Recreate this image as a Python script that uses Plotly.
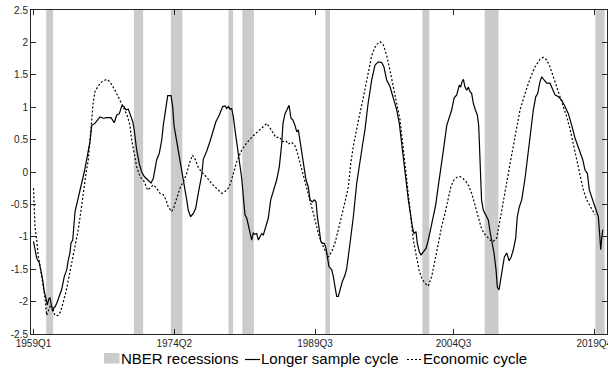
import plotly.graph_objects as go

# ---------------- data ----------------
cycle_dates = [
    1959.00, 1959.35, 1959.63, 1959.89, 1960.00, 1960.14, 1960.35, 1960.50, 1960.65, 1960.79,
    1960.90, 1961.08, 1961.19, 1961.33, 1961.51, 1961.80, 1962.06, 1962.34, 1962.60, 1962.77,
    1962.95, 1963.06, 1963.25, 1963.50, 1963.75, 1964.04, 1964.33, 1964.50, 1964.76, 1964.94,
    1965.12, 1965.31, 1965.66, 1966.20, 1966.56, 1966.93, 1967.40, 1967.75, 1968.01, 1968.30,
    1968.56, 1968.80, 1969.02, 1969.27, 1969.53, 1969.75, 1969.89, 1970.18, 1970.46, 1970.72,
    1971.00, 1971.37, 1971.73, 1971.98, 1972.16, 1972.35, 1972.63, 1972.89, 1973.06, 1973.32,
    1973.54, 1973.90, 1974.08, 1974.22, 1974.51, 1974.80, 1975.06, 1975.34, 1975.60, 1975.77,
    1976.03, 1976.31, 1976.57, 1976.85, 1977.22, 1977.40, 1977.76, 1978.12, 1978.45, 1978.77,
    1979.13, 1979.50, 1979.75, 1979.93, 1980.11, 1980.29, 1980.47, 1980.65, 1980.83, 1981.02,
    1981.19, 1981.37, 1981.56, 1981.73, 1981.91, 1982.10, 1982.27, 1982.46, 1982.64, 1982.81,
    1983.00, 1983.18, 1983.36, 1983.54, 1983.72, 1983.90, 1984.08, 1984.44, 1984.70, 1984.98,
    1985.35, 1985.63, 1985.89, 1986.03, 1986.25, 1986.46, 1986.68, 1986.90, 1987.11, 1987.33,
    1987.52, 1987.69, 1987.87, 1988.06, 1988.31, 1988.52, 1988.77, 1988.96, 1989.20, 1989.42,
    1989.61, 1989.75, 1989.96, 1990.12, 1990.33, 1990.51, 1990.69, 1990.87, 1991.01, 1991.31,
    1991.48, 1991.66, 1991.85, 1992.02, 1992.21, 1992.46, 1992.75, 1992.93, 1993.29, 1993.65,
    1994.02, 1994.37, 1994.67, 1994.91, 1995.24, 1995.64, 1996.00, 1996.36, 1996.72, 1996.97,
    1997.26, 1997.62, 1997.98, 1998.35, 1998.63, 1998.92, 1999.25, 1999.61, 1999.79, 2000.04,
    2000.22, 2000.44, 2000.58, 2000.80, 2000.98, 2001.23, 2001.52, 2001.77, 2002.03, 2002.31,
    2002.57, 2002.82, 2003.15, 2003.47, 2003.77, 2004.05, 2004.31, 2004.56, 2004.85, 2005.13,
    2005.28, 2005.42, 2005.57, 2005.75, 2005.93, 2006.11, 2006.29, 2006.47, 2006.65, 2006.86,
    2007.08, 2007.23, 2007.37, 2007.54, 2007.73, 2008.02, 2008.27, 2008.46, 2008.64, 2008.89,
    2009.11, 2009.25, 2009.43, 2009.62, 2009.79, 2010.01, 2010.27, 2010.52, 2010.73, 2010.98,
    2011.24, 2011.41, 2011.63, 2011.89, 2012.25, 2012.57, 2012.97, 2013.15, 2013.41, 2013.62,
    2013.87, 2014.06, 2014.31, 2014.60, 2014.96, 2015.25, 2015.50, 2015.86, 2016.22, 2016.58,
    2016.94, 2017.31, 2017.67, 2018.13, 2018.50, 2018.75, 2019.00, 2019.22, 2019.58, 2019.94,
    2020.19, 2020.30, 2020.45, 2020.56, 2020.67,
]
cycle_values = [
    -1.07, -1.33, -1.40, -1.56, -1.67, -1.82, -1.97, -2.05, -1.96, -1.94,
    -2.03, -2.15, -2.10, -2.08, -2.03, -1.92, -1.81, -1.61, -1.51, -1.36,
    -1.25, -1.10, -1.05, -0.61, -0.46, -0.28, -0.12, 0.00, 0.19, 0.31,
    0.47, 0.72, 0.75, 0.85, 0.83, 0.84, 0.84, 0.76, 0.88, 0.90,
    1.02, 1.01, 0.96, 0.97, 0.88, 0.78, 0.67, 0.34, 0.13, 0.00,
    -0.07, -0.12, -0.17, -0.10, 0.08, 0.19, 0.29, 0.49, 0.72, 1.01,
    1.18, 1.18, 1.01, 0.72, 0.49, 0.24, 0.03, -0.20, -0.43, -0.59,
    -0.69, -0.64, -0.56, -0.33, -0.05, 0.20, 0.32, 0.47, 0.62, 0.78,
    0.88, 1.01, 1.02, 0.98, 1.01, 0.97, 0.98, 0.85, 0.65, 0.44,
    0.24, 0.08, -0.10, -0.38, -0.66, -0.71, -0.82, -0.89, -1.05, -0.94,
    -0.96, -0.95, -1.05, -1.00, -0.95, -0.97, -0.89, -0.71, -0.43, -0.30,
    -0.12, 0.08, 0.44, 0.75, 0.90, 0.96, 1.03, 0.83, 0.80, 0.72,
    0.62, 0.65, 0.47, 0.26, 0.05, -0.12, -0.23, -0.43, -0.46, -0.43,
    -0.46, -0.69, -0.89, -1.07, -1.10, -1.10, -1.18, -1.31, -1.46, -1.51,
    -1.61, -1.77, -1.92, -1.92, -1.82, -1.69, -1.59, -1.49, -1.10, -0.69,
    -0.17, 0.19, 0.44, 0.65, 1.05, 1.42, 1.65, 1.70, 1.69, 1.62,
    1.42, 1.32, 1.16, 0.96, 0.75, 0.35, 0.00, -0.43, -0.64, -0.84,
    -0.95, -0.92, -1.10, -1.23, -1.28, -1.23, -1.18, -1.05, -0.89, -0.69,
    -0.51, -0.25, 0.05, 0.40, 0.72, 0.85, 0.96, 1.14, 1.19, 1.34,
    1.31, 1.39, 1.43, 1.31, 1.26, 1.31, 1.24, 1.21, 1.06, 0.96,
    0.88, 0.72, 0.15, -0.43, -0.59, -0.66, -0.74, -0.92, -1.05, -1.25,
    -1.51, -1.78, -1.82, -1.64, -1.46, -1.31, -1.25, -1.37, -1.32, -1.20,
    -1.02, -0.69, -0.54, -0.43, -0.10, 0.30, 0.72, 0.96, 1.16, 1.21,
    1.39, 1.47, 1.42, 1.37, 1.37, 1.26, 1.19, 1.16, 1.11, 1.01,
    0.90, 0.72, 0.52, 0.34, 0.19, 0.03, -0.02, -0.28, -0.43, -0.59,
    -0.69, -0.89, -1.20, -1.02, -0.89,
]

econ_dates = [
    1959.00, 1959.05, 1959.16, 1959.35, 1959.52, 1959.78, 1960.00, 1960.25, 1960.43, 1960.68,
    1960.86, 1961.08, 1961.25, 1961.44, 1961.69, 1961.95, 1962.23, 1962.52, 1962.77, 1963.06,
    1963.31, 1963.60, 1963.85, 1964.15, 1964.40, 1964.66, 1964.94, 1965.12, 1965.28, 1965.45,
    1965.66, 1966.02, 1966.39, 1966.93, 1967.29, 1967.83, 1968.37, 1968.80, 1969.21, 1969.45,
    1969.64, 1969.89, 1970.18, 1970.54, 1971.00, 1971.37, 1971.73, 1971.98, 1972.35, 1972.70,
    1973.06, 1973.35, 1973.60, 1973.97, 1974.22, 1974.51, 1974.87, 1975.23, 1975.60, 1975.88,
    1976.23, 1976.50, 1976.85, 1977.22, 1977.76, 1978.31, 1978.85, 1979.39, 1979.75, 1980.11,
    1980.36, 1980.65, 1981.02, 1981.56, 1982.10, 1982.81, 1983.54, 1983.97, 1984.27, 1984.62,
    1984.98, 1985.27, 1985.63, 1986.00, 1986.36, 1986.60, 1986.97, 1987.33, 1987.58, 1987.87,
    1988.06, 1988.41, 1988.77, 1989.14, 1989.50, 1989.86, 1990.22, 1990.58, 1990.94, 1991.31,
    1991.66, 1992.02, 1992.39, 1992.75, 1993.11, 1993.37, 1993.65, 1993.94, 1994.27, 1994.59,
    1994.91, 1995.27, 1995.64, 1996.11, 1996.54, 1996.90, 1997.26, 1997.62, 1997.98, 1998.35,
    1998.71, 1999.03, 1999.36, 1999.68, 1999.90, 2000.15, 2000.52, 2000.77, 2001.06, 2001.42,
    2001.77, 2002.14, 2002.50, 2002.86, 2003.22, 2003.58, 2003.94, 2004.23, 2004.56, 2004.88,
    2005.21, 2005.53, 2005.86, 2006.18, 2006.51, 2006.83, 2007.16, 2007.48, 2007.81, 2008.16,
    2008.46, 2008.81, 2009.18, 2009.54, 2009.90, 2010.24, 2010.62, 2010.98, 2011.35, 2011.71,
    2012.25, 2012.79, 2013.33, 2013.87, 2014.23, 2014.60, 2014.96, 2015.31, 2015.68, 2016.04,
    2016.40, 2016.77, 2017.13, 2017.48, 2017.85, 2018.21, 2018.57, 2018.93, 2019.29, 2019.65,
    2019.83,
]
econ_values = [
    -0.25, -0.48, -0.84, -1.05, -1.30, -1.51, -1.72, -1.95, -2.21, -2.13,
    -2.05, -2.10, -2.19, -2.22, -2.21, -2.15, -2.00, -1.85, -1.67, -1.46,
    -1.31, -1.12, -0.89, -0.59, -0.30, -0.05, 0.19, 0.45, 0.75, 1.05,
    1.24, 1.33, 1.39, 1.43, 1.39, 1.26, 1.11, 0.98, 0.85, 0.72,
    0.49, 0.29, 0.08, -0.07, -0.15, -0.28, -0.23, -0.20, -0.25, -0.33,
    -0.35, -0.43, -0.54, -0.61, -0.54, -0.41, -0.25, -0.15, -0.02, 0.13,
    0.26, 0.20, 0.07, 0.00, -0.08, -0.18, -0.25, -0.33, -0.30, -0.25,
    -0.17, -0.03, 0.16, 0.34, 0.45, 0.56, 0.65, 0.70, 0.75, 0.68,
    0.60, 0.53, 0.54, 0.47, 0.48, 0.43, 0.46, 0.40, 0.30, 0.15,
    0.03, -0.12, -0.33, -0.54, -0.74, -0.95, -1.10, -1.20, -1.31, -1.23,
    -1.10, -0.89, -0.69, -0.46, -0.23, 0.13, 0.40, 0.62, 0.85, 1.05,
    1.28, 1.57, 1.80, 1.96, 2.01, 1.96, 1.80, 1.57, 1.32, 1.06,
    0.80, 0.40, 0.00, -0.40, -0.72, -1.05, -1.33, -1.51, -1.64, -1.72,
    -1.76, -1.61, -1.36, -1.10, -0.84, -0.64, -0.43, -0.22, -0.12, -0.08,
    -0.07, -0.10, -0.15, -0.22, -0.35, -0.50, -0.68, -0.85, -0.95, -1.00,
    -1.05, -1.07, -1.02, -0.74, -0.43, -0.15, 0.12, 0.40, 0.70, 0.96,
    1.21, 1.44, 1.62, 1.74, 1.77, 1.73, 1.62, 1.47, 1.32, 1.16,
    1.01, 0.85, 0.66, 0.42, 0.17, -0.07, -0.28, -0.43, -0.52, -0.61,
    -0.66,
]

recession_start = ["1960Q3", "1970Q1", "1974Q1", "1980Q2", "1981Q4", "1990Q4", "2001Q2", "2008Q1", "2020Q1"]
recession_end = ["1961Q1", "1970Q4", "1975Q1", "1980Q3", "1982Q4", "1991Q1", "2001Q4", "2009Q2", "2020Q4"]

tick_labels = ["1959Q1", "1974Q2", "1989Q3", "2004Q3", "2019Q4"]
y_ticks = [-2.5, -2, -1.5, -1, -0.5, 0, 0.5, 1, 1.5, 2, 2.5]
y_range = [-2.5, 2.5]

legend_names = ["NBER recessions", "Longer sample cycle", "Economic cycle"]


def q2year(q):
    y, n = q.split("Q")
    return int(y) + (int(n) - 1) / 4.0


rec_lo = [q2year(s) - 0.125 for s in recession_start]
rec_hi = [q2year(e) + 0.125 for e in recession_end]
rec_center = [(a + b) / 2 for a, b in zip(rec_lo, rec_hi)]
rec_width = [b - a for a, b in zip(rec_lo, rec_hi)]

AX = "#262626"
FONT = "Liberation Sans, Arial, Helvetica, sans-serif"
GRAY = "#cbcbcb"
DOT = "2px,2px"

fig = go.Figure()
fig.add_trace(go.Bar(
    x=rec_center, y=[y_range[1] - y_range[0]] * len(rec_center), base=y_range[0],
    width=rec_width, marker=dict(color=GRAY, line=dict(width=0)),
    name=legend_names[0], showlegend=False, hoverinfo="skip",
))
fig.add_trace(go.Scatter(
    x=cycle_dates, y=cycle_values, mode="lines", name=legend_names[1],
    line=dict(color="black", width=1.2), showlegend=False,
))
fig.add_trace(go.Scatter(
    x=econ_dates, y=econ_values, mode="lines", name=legend_names[2],
    line=dict(color="black", width=1.2, dash=DOT), showlegend=False,
))

# manual legend below the axes (paper coordinates)
W, H = 576.0, 324.0
L, B = 31.0, 334.0


def px(xp):
    return (xp - L) / W


def py(yp):
    return (B - yp) / H


shapes = [
    dict(type="rect", xref="paper", yref="paper", x0=px(104), x1=px(119.5), y0=py(363.5), y1=py(353),
         fillcolor=GRAY, line=dict(width=0)),
    dict(type="line", xref="paper", yref="paper", x0=px(245), x1=px(260), y0=py(359.5), y1=py(359.5),
         line=dict(color="black", width=1.2)),
    dict(type="line", xref="paper", yref="paper", x0=px(407), x1=px(422), y0=py(359.5), y1=py(359.5),
         line=dict(color="black", width=1.2, dash=DOT)),
]
annotations = []
for xpos, txt in zip([119, 259, 421], legend_names):
    annotations.append(dict(
        xref="paper", yref="paper", x=px(xpos), y=py(359), text=txt, showarrow=False,
        xanchor="left", yanchor="middle", font=dict(family=FONT, size=15, color="black"),
    ))

fig.update_layout(
    width=608, height=372,
    margin=dict(l=31, r=1, t=10, b=38, autoexpand=False),
    paper_bgcolor="white", plot_bgcolor="white",
    font=dict(family=FONT, size=10, color=AX),
    barmode="overlay",
    shapes=shapes, annotations=annotations,
    showlegend=False,
)
fig.update_xaxes(
    range=[1958.73, 2021.13],
    tickvals=[q2year(t) for t in tick_labels], ticktext=tick_labels,
    ticks="inside", ticklen=5, tickwidth=1, tickcolor=AX,
    showline=True, linecolor=AX, linewidth=1, mirror="ticks",
    showgrid=False, zeroline=False, tickfont=dict(size=10, color=AX),
    ticklabeloverflow="allow", automargin=False,
)
fig.update_yaxes(
    range=y_range,
    tickvals=y_ticks, ticktext=[("%g" % v) for v in y_ticks],
    ticks="inside", ticklen=5, tickwidth=1, tickcolor=AX,
    showline=True, linecolor=AX, linewidth=1, mirror="ticks",
    showgrid=False, zeroline=False, tickfont=dict(size=10, color=AX),
    ticklabeloverflow="allow", automargin=False,
)

fig.write_html("out.html")
